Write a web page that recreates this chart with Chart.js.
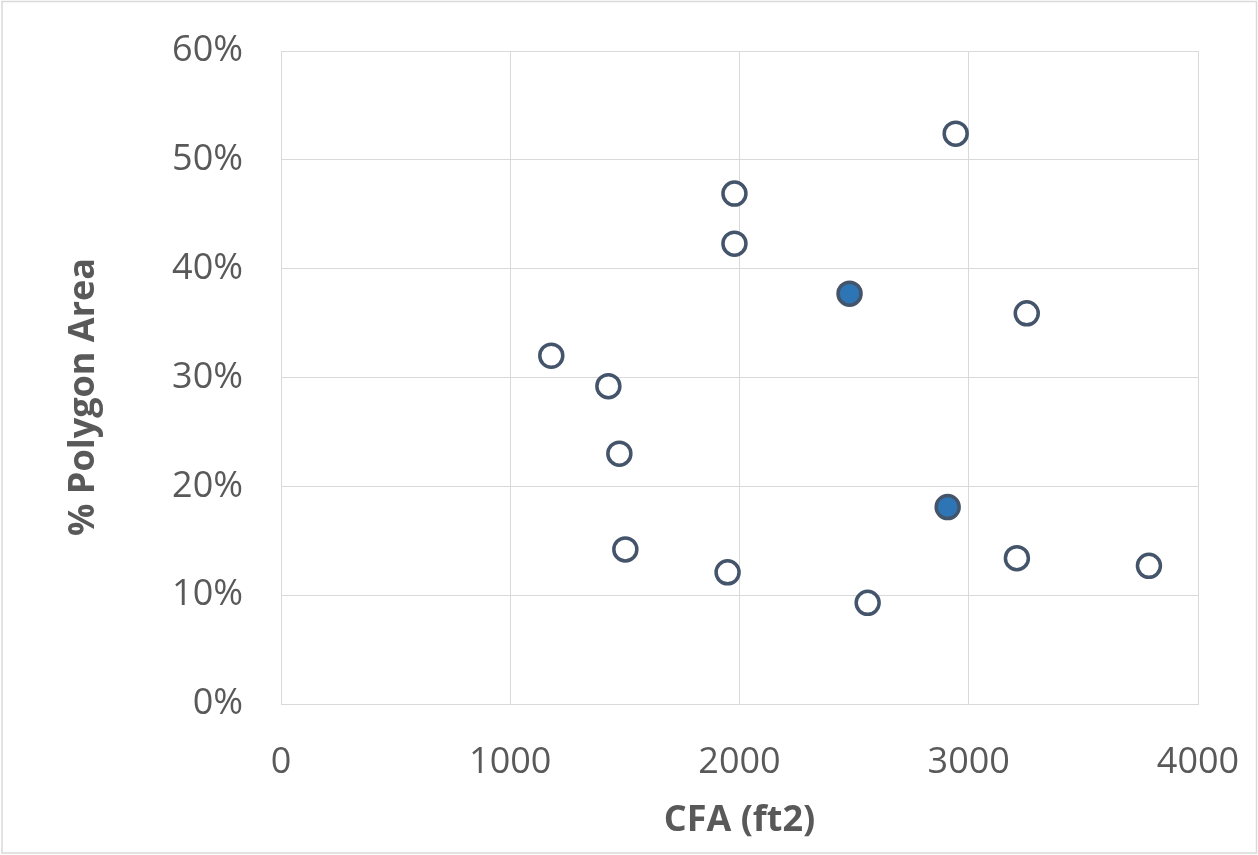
<!DOCTYPE html>
<html>
<head>
<meta charset="utf-8">
<script src="https://cdn.jsdelivr.net/npm/chart.js@4"></script>
<style>
  html, body { margin: 0; padding: 0; background: #ffffff; }
  #wrap { width: 1258px; height: 855px; position: relative; }
</style>
</head>
<body>
<div id="wrap"><canvas id="c" width="1258" height="855"></canvas></div>
<script>
// Data
const openCFA   = [1179, 1428, 1476, 1502, 1948, 1978, 1978, 2559, 2943, 3253, 3210, 3786];
const openPct   = [0.320, 0.292, 0.230, 0.142, 0.121, 0.469, 0.423, 0.093, 0.524, 0.359, 0.134, 0.127];
const filledCFA = [2480, 2908];
const filledPct = [0.377, 0.181];
const xTicks = [0, 1000, 2000, 3000, 4000];
const yTicks = [0, 0.1, 0.2, 0.3, 0.4, 0.5, 0.6];
const xTitle = 'CFA (ft2)';
const yTitle = '% Polygon Area';

const toPoints = (xs, ys) => xs.map((x, i) => ({ x: x, y: ys[i] }));

const textColor = '#595959';
const gridColor = '#d9d9d9';
const fontFamily = '"Open Sans", "Noto Sans", sans-serif';

const frameAndTitle = {
  id: 'frameAndTitle',
  afterDraw(chart) {
    const ctx = chart.ctx;
    ctx.save();
    ctx.strokeStyle = '#d9d9d9';
    ctx.lineWidth = 1.5;
    ctx.strokeRect(2, 1.5, 1254.5, 851.5);
    ctx.fillStyle = textColor;
    ctx.font = 'bold 36px ' + fontFamily;
    ctx.textAlign = 'center';
    ctx.textBaseline = 'middle';
    ctx.translate(84, 397);
    ctx.rotate(-Math.PI / 2);
    ctx.fillText(yTitle, 0, 0);
    ctx.restore();
  }
};

new Chart(document.getElementById('c'), {
  type: 'scatter',
  data: {
    datasets: [
      {
        label: 'Open',
        data: toPoints(openCFA, openPct),
        backgroundColor: '#ffffff',
        borderColor: '#44546a',
        borderWidth: 3.5,
        pointRadius: 11.5,
        pointHoverRadius: 11.5
      },
      {
        label: 'Filled',
        data: toPoints(filledCFA, filledPct),
        backgroundColor: '#2e75b6',
        borderColor: '#44546a',
        borderWidth: 3.5,
        pointRadius: 11.5,
        pointHoverRadius: 11.5
      }
    ]
  },
  options: {
    responsive: false,
    animation: false,
    devicePixelRatio: 1,
    layout: { padding: { left: 0, top: 51, right: 60, bottom: 0 } },
    plugins: {
      legend: { display: false },
      tooltip: { enabled: false }
    },
    scales: {
      x: {
        type: 'linear',
        min: xTicks[0],
        max: xTicks[xTicks.length - 1],
        afterBuildTicks(scale) { scale.ticks = xTicks.map(v => ({ value: v })); },
        afterFit(scale) { scale.height = 151; },
        grid: { color: gridColor, lineWidth: 1, drawTicks: true, tickLength: 37, tickColor: 'rgba(0,0,0,0)' },
        border: { display: true, color: gridColor, width: 1 },
        ticks: {
          padding: 0,
          color: textColor,
          font: { family: fontFamily, size: 36 },
          maxRotation: 0,
          callback: v => String(v)
        },
        title: {
          display: true,
          text: xTitle,
          color: textColor,
          font: { family: fontFamily, size: 36, weight: 'bold' },
          padding: { top: 0, bottom: 13 }
        }
      },
      y: {
        type: 'linear',
        min: yTicks[0],
        max: yTicks[yTicks.length - 1],
        afterBuildTicks(scale) { scale.ticks = yTicks.map(v => ({ value: v })); },
        afterFit(scale) { scale.width = 281; },
        grid: { color: gridColor, lineWidth: 1, drawTicks: true, tickLength: 38, tickColor: 'rgba(0,0,0,0)' },
        border: { display: true, color: gridColor, width: 1 },
        ticks: {
          padding: 0,
          color: textColor,
          font: { family: fontFamily, size: 36 },
          callback: v => Math.round(v * 100) + '%'
        }
      }
    }
  },
  plugins: [frameAndTitle]
});
</script>
</body>
</html>
